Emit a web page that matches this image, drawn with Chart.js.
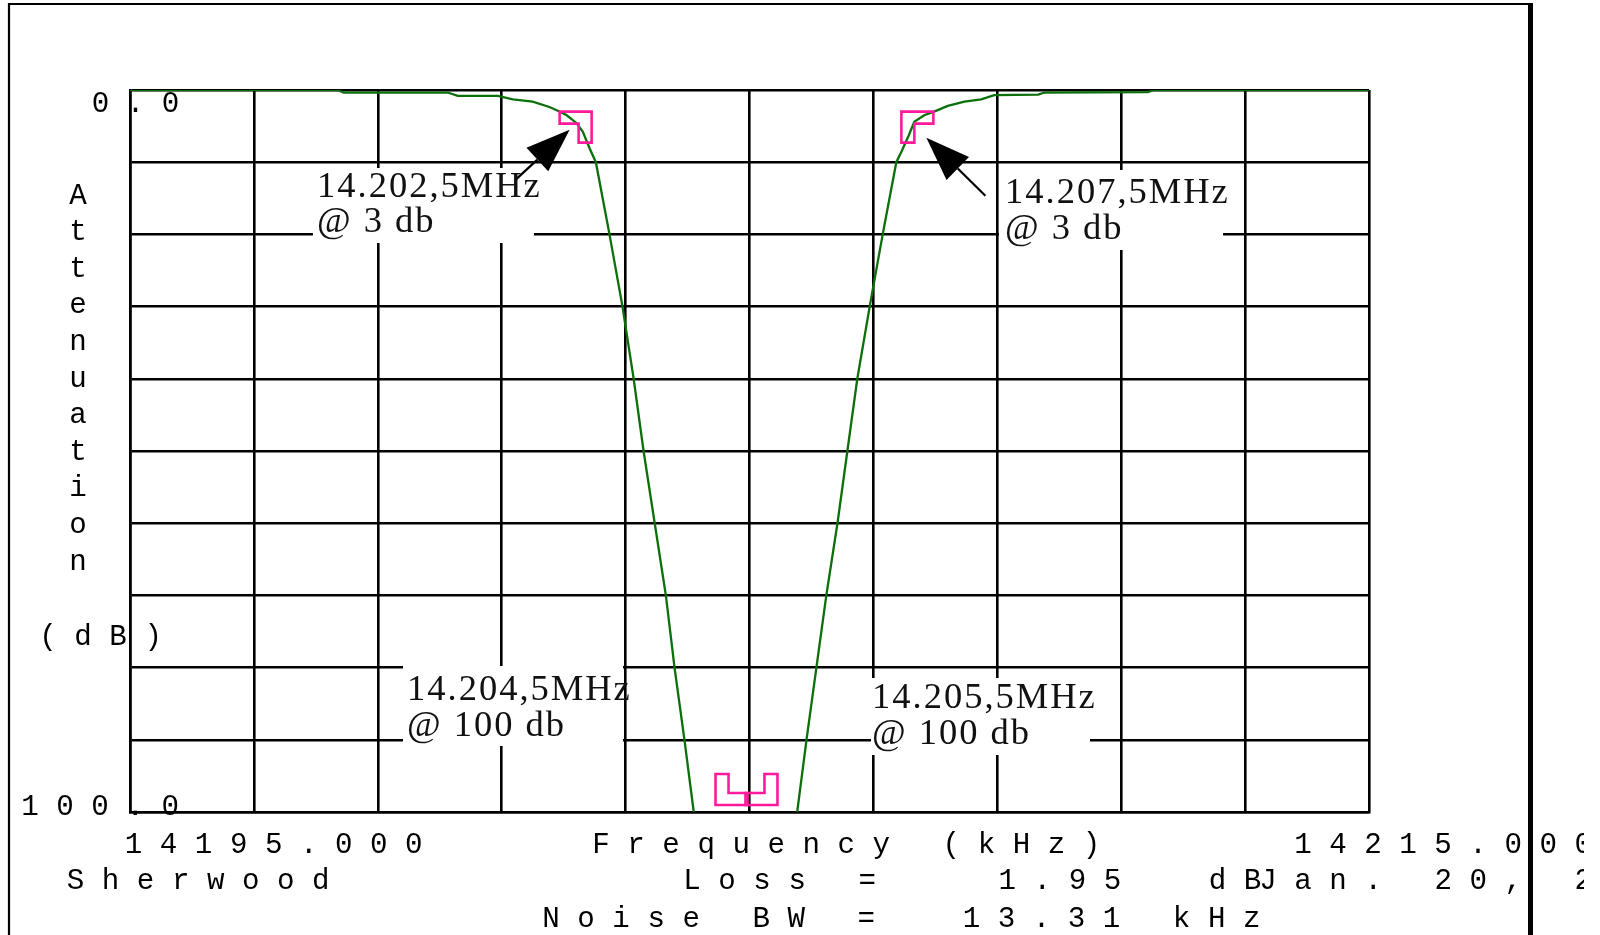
<!DOCTYPE html>
<html>
<head>
<meta charset="utf-8">
<script src="https://cdn.jsdelivr.net/npm/chart.js@4/dist/chart.umd.min.js"></script>
<style>
  html, body { margin: 0; padding: 0; background: #ffffff; }
  #wrap { width: 1600px; height: 935px; position: relative; overflow: hidden; }
  canvas { display: block; }
</style>
</head>
<body>
<div id="wrap"><canvas id="sweep" width="1600" height="935"></canvas></div>
<script>
// Crystal filter sweep: attenuation (dB) versus frequency (kHz)
const freqKHz = [
  14195.00, 14198.35, 14198.45, 14200.13, 14200.29, 14200.94, 14201.18, 14201.50,
  14201.77, 14201.94, 14202.05, 14202.21, 14202.31, 14202.42, 14202.52, 14202.74,
  14202.95, 14203.13, 14203.29, 14203.47, 14203.65, 14203.79, 14203.95, 14204.10,
  14205.00,
  14205.77, 14205.92, 14206.08, 14206.24, 14206.42, 14206.58, 14206.74, 14206.94,
  14207.15, 14207.37, 14207.45, 14207.57, 14207.66, 14207.82, 14207.98, 14208.20,
  14208.47, 14208.74, 14208.95, 14209.66, 14209.76, 14211.43, 14211.53, 14215.00
];
const attenuationDb = [
  0, 0, 0.35, 0.35, 0.8, 0.8, 1.3, 1.6,
  2.35, 3.0, 3.5, 4.6, 5.8, 8.1, 10, 20,
  30, 40, 50, 60, 70, 80, 90, 100,
  null,
  100, 90, 80, 70, 60, 50, 40, 30,
  20, 10, 8.6, 6.3, 4.4, 3.5, 3.0, 2.2,
  1.6, 1.3, 0.7, 0.65, 0.35, 0.3, 0, 0
];

// Axis ranges and the labels printed at the ends of each axis
const freqRangeKHz = [14195, 14215];
const attenRangeDb = [0, 100];
const gridDivisions = 10;
const freqEndLabels = ['14195.000', '14215.000'];
const attenEndLabels = ['0.0', '100.0'];

// Marked points of the passband
const markerFreqKHz = [14202.5, 14207.5, 14204.5, 14205.5];
const markerDb = [3, 3, 100, 100];
const markerText = [
  ['14.202,5MHz', '@ 3 db'],
  ['14.207,5MHz', '@ 3 db'],
  ['14.204,5MHz', '@ 100 db'],
  ['14.205,5MHz', '@ 100 db']
];

// Captions
const xTitle = 'Frequency (kHz)';
const yTitle = 'Attenuation';
const yUnit = '(dB)';
const footerName = 'Sherwood';
const footerLoss = 'Loss =   1.95  dB';
const footerDate = 'Jan. 20, 2';
const footerNoise = 'Noise BW =  13.31 kHz';

// ---- drawing styles ----
const GREEN = '#0b700b';
const PINK = '#ff1a9c';
const MONO = '29.2px "Liberation Mono", "DejaVu Sans Mono", monospace';
const SERIF = '36.5px "Liberation Serif", "DejaVu Serif", serif';
const SERIF_SPACING = '2px';

// marker geometry: direction the box grows from its anchor, and a lift off the floor
const markerShape = [
  { dx: -1, dy: 1, lift: 0 },
  { dx: 1, dy: 1, lift: 0 },
  { dx: 1, dy: -1, lift: 7 },
  { dx: -1, dy: -1, lift: 7 }
];
const markerNudgeX = -3;
// label panels (white patches that interrupt the grid) and text origins
const labelPanels = [
  { x: 313, y: 168, w: 221, h: 75, tx: 317, b1: 197, b2: 232 },
  { x: 999, y: 170, w: 224, h: 80, tx: 1005, b1: 203, b2: 239 },
  { x: 403, y: 666, w: 220, h: 80, tx: 407, b1: 700, b2: 736 },
  { x: 871, y: 678, w: 219, h: 77, tx: 872, b1: 708, b2: 744 }
];
// arrows pointing at the 3 dB markers, relative to the marker anchor
const markerArrows = [
  { marker: 0, tail: [-77, 69], tip: [-22, 18] },
  { marker: 1, tail: [84, 84], tip: [25, 26] }
];

const spaced = s => s.split('').join(' ');

function drawSpaced(ctx, text, left, baseline) {
  ctx.fillText(spaced(text), left, baseline);
}

const decorations = {
  id: 'sweepDecorations',
  beforeDatasetsDraw(chart) {
    const ctx = chart.ctx;
    ctx.save();
    ctx.fillStyle = '#ffffff';
    labelPanels.forEach(p => ctx.fillRect(p.x, p.y, p.w, p.h));
    ctx.restore();
  },
  afterDatasetsDraw(chart) {
    const ctx = chart.ctx;
    const xs = chart.scales.x, ys = chart.scales.y;
    ctx.save();

    // markers
    const anchors = markerFreqKHz.map((f, i) => [
      xs.getPixelForValue(f) + markerNudgeX,
      ys.getPixelForValue(markerDb[i]) - markerShape[i].lift
    ]);
    ctx.strokeStyle = PINK;
    ctx.lineWidth = 2.6;
    ctx.lineJoin = 'miter';
    anchors.forEach(([ax, ay], i) => {
      const { dx, dy } = markerShape[i];
      const W = 32, H = 31, armX = 13, armY = 12;
      ctx.beginPath();
      ctx.moveTo(ax, ay);
      ctx.lineTo(ax + dx * W, ay);
      ctx.lineTo(ax + dx * W, ay + dy * armY);
      ctx.lineTo(ax + dx * armX, ay + dy * armY);
      ctx.lineTo(ax + dx * armX, ay + dy * H);
      ctx.lineTo(ax, ay + dy * H);
      ctx.closePath();
      ctx.stroke();
    });

    // arrows
    ctx.strokeStyle = '#000';
    ctx.fillStyle = '#000';
    markerArrows.forEach(a => {
      const [ax, ay] = anchors[a.marker];
      const tx = ax + a.tail[0], ty = ay + a.tail[1];
      const px = ax + a.tip[0], py = ay + a.tip[1];
      const ang = Math.atan2(py - ty, px - tx);
      const len = 44, half = 16;
      const bx = px - Math.cos(ang) * len, by = py - Math.sin(ang) * len;
      ctx.lineWidth = 2.2;
      ctx.beginPath();
      ctx.moveTo(tx, ty);
      ctx.lineTo(bx, by);
      ctx.stroke();
      ctx.beginPath();
      ctx.moveTo(px, py);
      ctx.lineTo(bx + Math.sin(ang) * half, by - Math.cos(ang) * half);
      ctx.lineTo(bx - Math.sin(ang) * half, by + Math.cos(ang) * half);
      ctx.closePath();
      ctx.fill();
    });

    // marker captions
    ctx.font = SERIF;
    if ('letterSpacing' in ctx) ctx.letterSpacing = SERIF_SPACING;
    ctx.fillStyle = '#111';
    ctx.textBaseline = 'alphabetic';
    ctx.textAlign = 'left';
    markerText.forEach((lines, i) => {
      const p = labelPanels[i];
      ctx.fillText(lines[0], p.tx, p.b1);
      ctx.fillText(lines[1], p.tx, p.b2);
    });
    if ('letterSpacing' in ctx) ctx.letterSpacing = '0px';
    ctx.restore();
  },
  afterDraw(chart) {
    const ctx = chart.ctx;
    ctx.save();
    ctx.font = MONO;
    ctx.fillStyle = '#000';
    ctx.textBaseline = 'alphabetic';
    ctx.textAlign = 'left';

    // end labels of the attenuation axis, straddling the left edge
    drawSpaced(ctx, attenEndLabels[0], 91.8, 112);
    drawSpaced(ctx, attenEndLabels[1], 21.3, 815);

    // stacked vertical title
    ctx.textAlign = 'center';
    yTitle.split('').forEach((ch, i) => ctx.fillText(ch, 78, 203.5 + 36.6 * i));
    ctx.textAlign = 'left';
    drawSpaced(ctx, yUnit, 39.3, 644.5);

    // frequency row
    drawSpaced(ctx, freqEndLabels[0], 124.8, 853);
    drawSpaced(ctx, xTitle, 592.3, 853);
    drawSpaced(ctx, freqEndLabels[1], 1294.2, 853);

    // footer rows
    drawSpaced(ctx, footerName, 66.8, 889);
    drawSpaced(ctx, footerLoss, 683.3, 889);
    drawSpaced(ctx, footerDate, 1259.3, 889);
    drawSpaced(ctx, footerNoise, 542.3, 927);

    // page frame
    ctx.fillStyle = '#ffffff';
    ctx.fillRect(1584, 0, 16, 935);
    ctx.strokeStyle = '#000';
    ctx.lineCap = 'butt';
    ctx.lineWidth = 2.2;
    ctx.beginPath();
    ctx.moveTo(9, 935); ctx.lineTo(9, 4); ctx.lineTo(1531, 4);
    ctx.stroke();
    ctx.lineWidth = 5;
    ctx.beginPath();
    ctx.moveTo(1530.5, 3); ctx.lineTo(1530.5, 935);
    ctx.stroke();
    ctx.restore();
  }
};

function evenTicks(range) {
  return scale => {
    const step = (range[1] - range[0]) / gridDivisions;
    scale.ticks = Array.from({ length: gridDivisions + 1 }, (_, i) => ({ value: range[0] + i * step }));
  };
}

const gridStyle = { color: '#000', lineWidth: 2.6, drawTicks: false };
const borderStyle = { display: true, color: '#000', width: 2.6 };

new Chart(document.getElementById('sweep'), {
  type: 'line',
  data: {
    datasets: [{
      data: freqKHz.map((f, i) => ({ x: f, y: attenuationDb[i] })),
      borderColor: GREEN,
      borderWidth: 2.3,
      pointRadius: 0,
      tension: 0,
      spanGaps: false,
      fill: false
    }]
  },
  options: {
    responsive: false,
    animation: false,
    devicePixelRatio: 1,
    layout: { padding: { left: 130, right: 231, top: 90, bottom: 123 } },
    plugins: { legend: { display: false }, tooltip: { enabled: false } },
    scales: {
      x: {
        type: 'linear',
        min: freqRangeKHz[0],
        max: freqRangeKHz[1],
        afterBuildTicks: evenTicks(freqRangeKHz),
        ticks: { display: false },
        grid: gridStyle,
        border: borderStyle
      },
      y: {
        type: 'linear',
        reverse: true,
        min: attenRangeDb[0],
        max: attenRangeDb[1],
        afterBuildTicks: evenTicks(attenRangeDb),
        ticks: { display: false },
        grid: gridStyle,
        border: borderStyle
      }
    }
  },
  plugins: [decorations]
});
</script>
</body>
</html>
